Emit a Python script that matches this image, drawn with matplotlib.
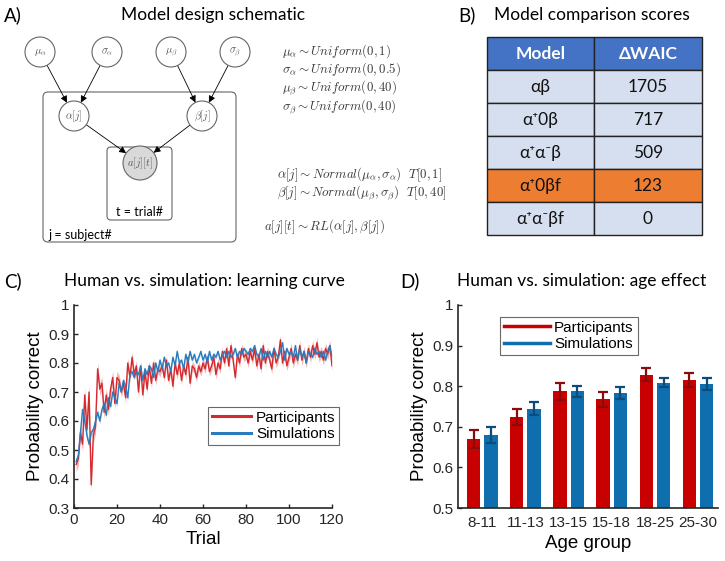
import numpy as np
import matplotlib
matplotlib.use("Agg")
from matplotlib import pyplot as plt
from matplotlib.patches import Circle, FancyBboxPatch, Rectangle, FancyArrowPatch
from matplotlib.lines import Line2D

# ---- data -------------------------------------------------------------
# panel B: model comparison table
models = ["αβ", "α⁺0β", "α⁺α⁻β", "α⁺0βf", "α⁺α⁻βf"]
waic = ["1705", "717", "509", "123", "0"]
highlight_row = 3

# panel C: learning curve (trial 1..120)
trials = np.arange(1, 121)
part_curve = [
    0.45, 0.47, 0.56, 0.52, 0.69, 0.57, 0.70, 0.38, 0.55, 0.58,
    0.78, 0.71, 0.73, 0.63, 0.69, 0.64, 0.71, 0.75, 0.66, 0.75,
    0.74, 0.70, 0.73, 0.68, 0.80, 0.75, 0.82, 0.76, 0.79, 0.70,
    0.79, 0.69, 0.77, 0.71, 0.79, 0.73, 0.80, 0.74, 0.78, 0.77,
    0.79, 0.75, 0.81, 0.74, 0.78, 0.72, 0.80, 0.76, 0.80, 0.74,
    0.79, 0.76, 0.82, 0.73, 0.79, 0.78, 0.75, 0.79, 0.77, 0.80,
    0.78, 0.82, 0.77, 0.79, 0.82, 0.76, 0.80, 0.78, 0.84, 0.80,
    0.85, 0.79, 0.86, 0.81, 0.75, 0.83, 0.80, 0.85, 0.82, 0.83,
    0.80, 0.84, 0.81, 0.85, 0.79, 0.83, 0.78, 0.86, 0.80, 0.84,
    0.81, 0.78, 0.85, 0.80, 0.82, 0.88, 0.80, 0.84, 0.79, 0.82,
    0.85, 0.80, 0.83, 0.81, 0.86, 0.81, 0.84, 0.80, 0.85, 0.82,
    0.86, 0.83, 0.87, 0.82, 0.84, 0.81, 0.85, 0.83, 0.86, 0.79,
]
sim_curve = [
    0.46, 0.48, 0.56, 0.64, 0.60, 0.55, 0.52, 0.56, 0.57, 0.60,
    0.63, 0.60, 0.64, 0.66, 0.62, 0.68, 0.65, 0.70, 0.68, 0.66,
    0.73, 0.70, 0.74, 0.72, 0.68, 0.76, 0.77, 0.75, 0.77, 0.76,
    0.79, 0.74, 0.78, 0.76, 0.79, 0.78, 0.75, 0.80, 0.77, 0.81,
    0.78, 0.82, 0.79, 0.80, 0.77, 0.82, 0.79, 0.84, 0.80, 0.81,
    0.78, 0.83, 0.80, 0.84, 0.81, 0.83, 0.80, 0.82, 0.84, 0.81,
    0.83, 0.80, 0.84, 0.81, 0.83, 0.82, 0.84, 0.81, 0.83, 0.84,
    0.82, 0.84, 0.82, 0.83, 0.85, 0.82, 0.84, 0.83, 0.85, 0.84,
    0.83, 0.85, 0.84, 0.86, 0.83, 0.82, 0.85, 0.81, 0.84, 0.82,
    0.84, 0.82, 0.85, 0.83, 0.82, 0.84, 0.87, 0.81, 0.85, 0.83,
    0.84, 0.82, 0.86, 0.81, 0.85, 0.82, 0.84, 0.80, 0.84, 0.83,
    0.82, 0.85, 0.83, 0.84, 0.82, 0.84, 0.81, 0.84, 0.86, 0.82,
]
# band half-widths, read per block of 10 trials
part_sem_block = [0.025, 0.022, 0.018, 0.017, 0.016, 0.016,
                  0.016, 0.016, 0.016, 0.017, 0.018, 0.018]
sim_sem_block = [0.012, 0.010, 0.008, 0.007, 0.007, 0.007,
                 0.007, 0.007, 0.007, 0.007, 0.007, 0.007]

# panel D: age groups
age_groups = ["8-11", "11-13", "13-15", "15-18", "18-25", "25-30"]
part_age = [0.670, 0.725, 0.787, 0.768, 0.828, 0.815]
part_age_err = [0.023, 0.020, 0.020, 0.018, 0.016, 0.018]
sim_age = [0.680, 0.745, 0.787, 0.783, 0.809, 0.805]
sim_age_err = [0.020, 0.016, 0.014, 0.014, 0.011, 0.014]

RED = "#d42a2f"
BLUE = "#2a7bbd"
BAR_RED = "#c90000"
BAR_BLUE = "#0f6fae"

title_font = ["Lato", "DejaVu Sans"]
axis_font = ["Liberation Sans", "DejaVu Sans"]

fig = plt.figure(figsize=(7.25, 5.61), dpi=100)

# overlay in pixel coordinates for schematic, table and titles
ov = fig.add_axes([0, 0, 1, 1])
ov.set_xlim(0, 725)
ov.set_ylim(561, 0)
ov.axis("off")
ov.patch.set_visible(False)

# ---- panel A: schematic -----------------------------------------------
nodes = {
    "mu_a": (40, 52, r"$\mu_\alpha$"),
    "sig_a": (107, 52, r"$\sigma_\alpha$"),
    "mu_b": (171, 52, r"$\mu_\beta$"),
    "sig_b": (235, 52, r"$\sigma_\beta$"),
    "alpha": (74, 116, r"$\alpha[j]$"),
    "beta": (202, 116, r"$\beta[j]$"),
    "act": (140, 163, r"$a[j][t]$"),
}
edges = [("mu_a", "alpha"), ("sig_a", "alpha"), ("mu_b", "beta"),
         ("sig_b", "beta"), ("alpha", "act"), ("beta", "act")]

ov.add_patch(FancyBboxPatch((43, 92), 193, 150, boxstyle="round,pad=0,rounding_size=5",
                            fc="none", ec="#666666", lw=0.8))
ov.add_patch(FancyBboxPatch((107, 147), 65, 73, boxstyle="round,pad=0,rounding_size=4",
                            fc="none", ec="#666666", lw=0.8))

for key, (x, y, lab) in nodes.items():
    r = 17 if key == "act" else 15
    fc = "#d9d9d9" if key == "act" else "white"
    ov.add_patch(Circle((x, y), r, fc=fc, ec="#666666", lw=0.8, zorder=3))
    ov.text(x, y, lab, ha="center", va="center", fontsize=7.5, color="#555555",
            math_fontfamily="cm", zorder=4)

for a, b in edges:
    xa, ya, _ = nodes[a]
    xb, yb, _ = nodes[b]
    rb = 17 if b == "act" else 15
    v = np.array([xb - xa, yb - ya], float)
    v /= np.hypot(*v)
    p0 = (xa + v[0] * 15, ya + v[1] * 15)
    p1 = (xb - v[0] * rb, yb - v[1] * rb)
    ov.add_patch(FancyArrowPatch(p0, p1, arrowstyle="-|>,head_length=4,head_width=2",
                                 color="black", lw=0.6, shrinkA=0, shrinkB=0, zorder=2))

ov.text(140, 212, "t = trial#", ha="center", va="center", fontsize=9, family=title_font)
ov.text(48, 235, "j = subject#", ha="left", va="center", fontsize=9, family=title_font)

eqs = [
    (282, 51, r"$\mu_\alpha \sim Uniform(0,1)$"),
    (282, 69, r"$\sigma_\alpha \sim Uniform(0,0.5)$"),
    (282, 88, r"$\mu_\beta \sim Uniform(0,40)$"),
    (282, 107, r"$\sigma_\beta \sim Uniform(0,40)$"),
    (277, 175, r"$\alpha[j] \sim Normal(\mu_\alpha,\sigma_\alpha)\ \ T[0,1]$"),
    (277, 193, r"$\beta[j] \sim Normal(\mu_\beta,\sigma_\beta)\ \ T[0,40]$"),
    (264, 227, r"$a[j][t] \sim RL(\alpha[j],\beta[j])$"),
]
for x, y, s in eqs:
    ov.text(x, y, s, ha="left", va="center", fontsize=9.3, color="#3a3a3a",
            math_fontfamily="cm")

# ---- panel titles -----------------------------------------------------
ov.text(4, 15, "A)", ha="left", va="center", fontsize=13.5, family=title_font)
ov.text(213, 15, "Model design schematic", ha="center", va="center", fontsize=12.5, family=title_font)
ov.text(458, 15, "B)", ha="left", va="center", fontsize=13.5, family=title_font)
ov.text(592, 15, "Model comparison scores", ha="center", va="center", fontsize=12.5, family=title_font)
ov.text(4, 281, "C)", ha="left", va="center", fontsize=13.5, family=title_font)
ov.text(204, 281, "Human vs. simulation: learning curve", ha="center", va="center",
        fontsize=12.5, family=title_font)
ov.text(400, 281, "D)", ha="left", va="center", fontsize=13.5, family=title_font)
ov.text(582, 281, "Human vs. simulation: age effect", ha="center", va="center",
        fontsize=12.5, family=title_font)

# ---- panel B: table ---------------------------------------------------
col_x = [487, 594, 702]
row_h = 33
top = 37
header = ["Model", "ΔWAIC"]
for c in range(2):
    ov.add_patch(Rectangle((col_x[c], top), col_x[c + 1] - col_x[c], row_h,
                           fc="#4472c4", ec="#222222", lw=1))
    ov.text((col_x[c] + col_x[c + 1]) / 2, top + row_h / 2, header[c], ha="center",
            va="center", fontsize=12.5, color="white", fontweight="bold", family=title_font)
for i, (m, w) in enumerate(zip(models, waic)):
    y0 = top + row_h * (i + 1)
    fc = "#ed7d31" if i == highlight_row else "#d6dff0"
    for c, s in enumerate([m, w]):
        ov.add_patch(Rectangle((col_x[c], y0), col_x[c + 1] - col_x[c], row_h,
                               fc=fc, ec="#222222", lw=1))
        ov.text((col_x[c] + col_x[c + 1]) / 2, y0 + row_h / 2, s, ha="center",
                va="center", fontsize=12.5, color="#111111", family=title_font)


def style_axes(ax):
    for side in ["top", "right"]:
        ax.spines[side].set_visible(False)
    for side in ["left", "bottom"]:
        ax.spines[side].set_linewidth(1.2)
        ax.spines[side].set_color("#262626")
    ax.tick_params(direction="in", length=3, width=1, colors="#262626", labelsize=11)
    for lab in ax.get_xticklabels() + ax.get_yticklabels():
        lab.set_family(axis_font)


# ---- panel C: learning curve -----------------------------------------
axc = fig.add_axes([74 / 725, 1 - 508 / 561, 258 / 725, 203 / 561])
part_sem = np.repeat(part_sem_block, 10)
sim_sem = np.repeat(sim_sem_block, 10)
part_arr = np.array(part_curve)
sim_arr = np.array(sim_curve)
axc.fill_between(trials, part_arr - part_sem, part_arr + part_sem, color="#ee9a9c",
                 alpha=0.75, lw=0)
axc.fill_between(trials, sim_arr - sim_sem, sim_arr + sim_sem, color="#8fc0e6",
                 alpha=0.75, lw=0)
axc.plot(trials, part_arr, color=RED, lw=1.0, label="Participants")
axc.plot(trials, sim_arr, color=BLUE, lw=1.0, label="Simulations")
axc.set_xlim(0, 120)
axc.set_ylim(0.3, 1)
axc.set_xticks(np.arange(0, 121, 20))
axc.set_yticks([0.3, 0.4, 0.5, 0.6, 0.7, 0.8, 0.9, 1.0])
axc.set_yticklabels(["0.3", "0.4", "0.5", "0.6", "0.7", "0.8", "0.9", "1"])
axc.set_xlabel("Trial", fontsize=13.5, family=axis_font, labelpad=3)
axc.set_ylabel("Probability correct", fontsize=13.5, family=axis_font, labelpad=3)
style_axes(axc)
leg = axc.legend(loc="upper left", bbox_to_anchor=(0.519, 0.4975), borderaxespad=0,
                 fancybox=False, handlelength=2.6,
                 prop={"family": axis_font, "size": 11}, borderpad=0.25,
                 labelspacing=0.15, handletextpad=0.3)
leg.get_frame().set_edgecolor("#444444")
leg.get_frame().set_linewidth(0.8)
for line in leg.get_lines():
    line.set_linewidth(2.2)

# ---- panel D: age effect ---------------------------------------------
axd = fig.add_axes([458 / 725, 1 - 508 / 561, 260 / 725, 203 / 561])
xpos = np.arange(1, len(age_groups) + 1)
bw = 0.31
axd.bar(xpos - 0.2, part_age, bw, yerr=part_age_err, color=BAR_RED, label="Participants",
        error_kw=dict(ecolor="#8a0b0b", elinewidth=1.6, capsize=3.5, capthick=1.6))
axd.bar(xpos + 0.2, sim_age, bw, yerr=sim_age_err, color=BAR_BLUE, label="Simulations",
        error_kw=dict(ecolor="#0b4c7c", elinewidth=1.6, capsize=3.5, capthick=1.6))
axd.set_xlim(0.44, 6.46)
axd.set_ylim(0.5, 1)
axd.set_xticks(xpos)
axd.set_xticklabels(age_groups)
axd.set_yticks([0.5, 0.6, 0.7, 0.8, 0.9, 1.0])
axd.set_yticklabels(["0.5", "0.6", "0.7", "0.8", "0.9", "1"])
axd.set_xlabel("Age group", fontsize=13.5, family=axis_font, labelpad=3)
axd.set_ylabel("Probability correct", fontsize=13.5, family=axis_font, labelpad=3)
style_axes(axd)
axd.tick_params(axis="x", length=0, pad=6)
handles = [Line2D([], [], color=BAR_RED, lw=2.5), Line2D([], [], color=BAR_BLUE, lw=2.5)]
leg2 = axd.legend(handles, ["Participants", "Simulations"], loc="upper left",
                  bbox_to_anchor=(0.1615, 0.941), borderaxespad=0, fancybox=False,
                  handlelength=3.0, prop={"family": axis_font, "size": 11},
                  borderpad=0.25, labelspacing=0.15, handletextpad=0.3)
leg2.get_frame().set_edgecolor("#444444")
leg2.get_frame().set_linewidth(0.8)

fig.savefig("out.png", dpi=100)
